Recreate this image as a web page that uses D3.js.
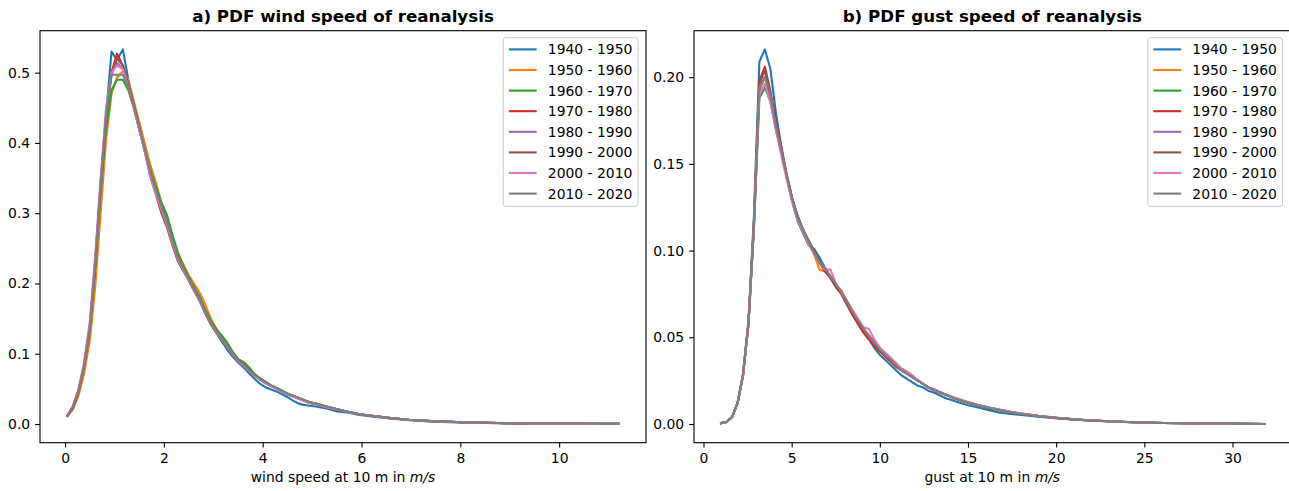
<!DOCTYPE html>
<html>
<head>
<meta charset="utf-8">
<script src="https://cdn.jsdelivr.net/npm/d3@7"></script>
<style>
  html, body { margin: 0; padding: 0; background: #fff; }
  svg { display: block; }
  text { font-family: "DejaVu Sans", sans-serif; fill: #000; }
</style>
</head>
<body>
<svg id="chart" width="1289" height="491"></svg>
<script>
// ---------------- DATA ----------------
const decadeLabels = ["1940 - 1950","1950 - 1960","1960 - 1970","1970 - 1980","1980 - 1990","1990 - 2000","2000 - 2010","2010 - 2020"];
const seriesColors = ["#1f77b4","#ff7f0e","#2ca02c","#d62728","#9467bd","#8c564b","#e377c2","#7f7f7f"];

// panel a) wind speed bins (m/s)
const windX = [
  0.05,0.16,0.27,0.38,0.50,0.61,0.72,0.83,0.94,1.05,
  1.17,1.28,1.39,1.50,1.61,1.72,1.83,1.95,2.06,2.17,
  2.28,2.39,2.50,2.61,2.73,2.84,2.95,3.06,3.17,3.28,
  3.39,3.51,3.62,3.73,3.84,3.95,4.06,4.17,4.29,4.40,
  4.51,4.62,4.73,4.84,4.95,5.07,5.29,5.51,5.74,5.96,
  6.29,6.63,6.96,7.30,7.64,8.08,8.53,8.98,9.42,9.87,
  10.5,11.2];
const wind1940 = [
  0.012,0.025,0.047,0.082,0.140,0.232,0.345,0.440,0.530,0.518,
  0.533,0.490,0.455,0.420,0.390,0.355,0.330,0.305,0.285,0.258,
  0.235,0.220,0.205,0.190,0.174,0.157,0.142,0.130,0.118,0.106,
  0.096,0.087,0.080,0.072,0.064,0.057,0.052,0.049,0.046,0.042,
  0.038,0.033,0.029,0.027,0.026,0.025,0.022,0.018,0.016,0.013,
  0.010,0.0075,0.0055,0.004,0.003,0.002,0.0014,0.0009,0.0006,0.0004,
  0.0002,0.0001];
const wind1950 = [
  0.011,0.021,0.040,0.070,0.118,0.195,0.300,0.405,0.470,0.493,
  0.502,0.490,0.460,0.430,0.400,0.370,0.345,0.315,0.290,0.265,
  0.242,0.228,0.212,0.200,0.186,0.170,0.150,0.136,0.124,0.112,
  0.100,0.090,0.084,0.077,0.070,0.064,0.058,0.054,0.050,0.046,
  0.043,0.040,0.037,0.034,0.031,0.029,0.025,0.021,0.017,0.014,
  0.011,0.008,0.006,0.0045,0.0035,0.0025,0.0017,0.0011,0.0008,0.0005,
  0.0003,0.0002];
const wind1960 = [
  0.012,0.024,0.046,0.080,0.135,0.222,0.330,0.420,0.475,0.490,
  0.490,0.475,0.450,0.420,0.392,0.362,0.340,0.315,0.298,0.270,
  0.245,0.225,0.210,0.195,0.180,0.162,0.147,0.135,0.126,0.116,
  0.103,0.092,0.088,0.080,0.071,0.065,0.060,0.055,0.051,0.047,
  0.043,0.040,0.037,0.034,0.031,0.029,0.025,0.021,0.017,0.014,
  0.011,0.008,0.006,0.0045,0.0034,0.0024,0.0016,0.0011,0.0007,0.0005,
  0.0003,0.0002];
const wind1970 = [
  0.012,0.024,0.046,0.080,0.136,0.226,0.338,0.440,0.500,0.527,
  0.510,0.480,0.452,0.420,0.390,0.358,0.333,0.308,0.288,0.260,
  0.236,0.220,0.206,0.192,0.176,0.158,0.143,0.131,0.120,0.110,
  0.100,0.090,0.085,0.076,0.069,0.063,0.058,0.054,0.050,0.046,
  0.042,0.039,0.036,0.033,0.030,0.028,0.024,0.020,0.017,0.014,
  0.011,0.008,0.006,0.0045,0.0035,0.0025,0.0017,0.0011,0.0008,0.0005,
  0.0003,0.0002];
const wind1980 = [
  0.012,0.024,0.046,0.080,0.136,0.228,0.338,0.438,0.497,0.514,
  0.505,0.482,0.452,0.420,0.390,0.358,0.332,0.307,0.286,0.260,
  0.236,0.220,0.206,0.190,0.176,0.158,0.143,0.131,0.121,0.110,
  0.100,0.089,0.083,0.076,0.069,0.063,0.059,0.054,0.050,0.046,
  0.042,0.039,0.036,0.033,0.031,0.028,0.024,0.020,0.017,0.014,
  0.011,0.008,0.006,0.0045,0.0035,0.0025,0.0017,0.0011,0.0008,0.0005,
  0.0003,0.0002];
const wind1990 = [
  0.012,0.024,0.046,0.081,0.137,0.228,0.340,0.440,0.500,0.520,
  0.510,0.485,0.455,0.425,0.390,0.355,0.328,0.300,0.280,0.255,
  0.232,0.218,0.205,0.190,0.176,0.158,0.142,0.130,0.120,0.110,
  0.100,0.090,0.084,0.076,0.070,0.064,0.060,0.055,0.051,0.047,
  0.043,0.040,0.037,0.034,0.031,0.029,0.025,0.021,0.017,0.014,
  0.011,0.008,0.006,0.0046,0.0036,0.0026,0.0018,0.0012,0.0008,0.0005,
  0.0003,0.0002];
const wind2000 = [
  0.013,0.026,0.050,0.086,0.145,0.240,0.350,0.450,0.500,0.510,
  0.505,0.480,0.450,0.420,0.388,0.352,0.328,0.305,0.284,0.258,
  0.235,0.220,0.205,0.190,0.175,0.158,0.143,0.131,0.121,0.110,
  0.099,0.089,0.083,0.075,0.068,0.063,0.058,0.054,0.050,0.046,
  0.042,0.039,0.036,0.033,0.030,0.028,0.024,0.021,0.017,0.014,
  0.011,0.008,0.006,0.0045,0.0035,0.0025,0.0017,0.0011,0.0008,0.0005,
  0.0003,0.0002];
const wind2010 = [
  0.012,0.025,0.047,0.082,0.138,0.230,0.340,0.440,0.497,0.497,
  0.497,0.480,0.452,0.422,0.392,0.360,0.334,0.310,0.288,0.262,
  0.238,0.222,0.207,0.192,0.177,0.159,0.144,0.132,0.121,0.111,
  0.100,0.090,0.084,0.076,0.070,0.064,0.059,0.055,0.051,0.047,
  0.043,0.040,0.037,0.034,0.031,0.029,0.025,0.021,0.017,0.014,
  0.011,0.008,0.006,0.0045,0.0035,0.0025,0.0017,0.0011,0.0008,0.0005,
  0.0003,0.0002];

// panel b) gust speed bins (m/s)
const gustX = [
  1.00,1.31,1.62,1.93,2.24,2.55,2.86,3.17,3.48,3.79,
  4.10,4.41,4.72,5.03,5.34,5.65,5.96,6.27,6.58,6.89,
  7.20,7.51,7.82,8.13,8.44,8.75,9.06,9.37,9.68,9.99,
  10.30,10.61,10.92,11.23,11.54,11.85,12.16,12.47,12.78,13.09,
  13.71,14.33,14.95,15.57,16.19,16.81,17.43,18.05,18.98,19.91,
  20.84,21.77,22.70,23.63,24.87,26.11,27.35,28.90,30.45,31.80];
const gust1940 = [
  0.0005,0.0012,0.004,0.012,0.029,0.060,0.120,0.209,0.216,0.205,
  0.180,0.160,0.142,0.128,0.117,0.110,0.103,0.101,0.096,0.090,
  0.085,0.079,0.075,0.069,0.064,0.058,0.053,0.049,0.044,0.040,
  0.037,0.034,0.031,0.028,0.026,0.024,0.022,0.021,0.019,0.018,
  0.015,0.013,0.011,0.0095,0.008,0.0065,0.0058,0.0052,0.0042,0.0033,
  0.0026,0.0021,0.0016,0.0012,0.0009,0.0006,0.0004,0.0002,0.0001,0.0];
const gust1950 = [
  0.0005,0.0012,0.004,0.012,0.028,0.057,0.113,0.192,0.200,0.188,
  0.171,0.157,0.142,0.129,0.118,0.111,0.104,0.098,0.089,0.088,
  0.085,0.080,0.077,0.071,0.065,0.060,0.055,0.051,0.047,0.043,
  0.040,0.037,0.034,0.031,0.029,0.027,0.025,0.023,0.021,0.0195,
  0.017,0.0145,0.0125,0.011,0.0095,0.008,0.0068,0.0058,0.0046,0.0036,
  0.0028,0.0022,0.0017,0.0013,0.0009,0.0006,0.0004,0.0002,0.0001,0.0];
const gust1960 = [
  0.0005,0.0012,0.004,0.012,0.028,0.058,0.113,0.188,0.194,0.186,
  0.170,0.157,0.143,0.130,0.120,0.112,0.105,0.099,0.093,0.089,
  0.085,0.080,0.076,0.070,0.065,0.060,0.055,0.051,0.047,0.044,
  0.041,0.038,0.035,0.031,0.029,0.027,0.025,0.023,0.021,0.0195,
  0.017,0.0145,0.0125,0.0108,0.0093,0.008,0.0068,0.0058,0.0046,0.0036,
  0.0028,0.0022,0.0017,0.0013,0.0009,0.0006,0.0004,0.0002,0.0001,0.0];
const gust1970 = [
  0.0005,0.0012,0.004,0.012,0.028,0.058,0.116,0.198,0.206,0.192,
  0.175,0.160,0.144,0.130,0.119,0.112,0.105,0.099,0.093,0.088,
  0.084,0.079,0.075,0.069,0.063,0.058,0.053,0.049,0.045,0.042,
  0.039,0.036,0.033,0.031,0.029,0.027,0.025,0.023,0.021,0.0195,
  0.017,0.0145,0.0125,0.0108,0.0093,0.008,0.0068,0.0058,0.0046,0.0036,
  0.0028,0.0022,0.0017,0.0013,0.0009,0.0006,0.0004,0.0002,0.0001,0.0];
const gust1980 = [
  0.0005,0.0012,0.004,0.012,0.028,0.058,0.115,0.194,0.200,0.190,
  0.172,0.158,0.143,0.130,0.119,0.112,0.105,0.099,0.093,0.089,
  0.085,0.080,0.076,0.070,0.065,0.060,0.055,0.051,0.048,0.044,
  0.041,0.038,0.034,0.032,0.030,0.028,0.025,0.023,0.021,0.020,
  0.017,0.0148,0.0128,0.011,0.0095,0.0082,0.007,0.006,0.0047,0.0037,
  0.0029,0.0022,0.0017,0.0013,0.0009,0.0006,0.0004,0.0002,0.0001,0.0];
const gust1990 = [
  0.0005,0.0012,0.004,0.012,0.028,0.058,0.115,0.196,0.204,0.190,
  0.173,0.158,0.143,0.130,0.120,0.112,0.106,0.100,0.094,0.089,
  0.085,0.080,0.076,0.070,0.065,0.060,0.055,0.051,0.047,0.043,
  0.040,0.037,0.034,0.032,0.030,0.027,0.025,0.023,0.021,0.0195,
  0.017,0.0145,0.0125,0.0108,0.0093,0.008,0.0068,0.0058,0.0046,0.0036,
  0.0028,0.0022,0.0017,0.0013,0.0009,0.0006,0.0004,0.0002,0.0001,0.0];
const gust2000 = [
  0.0005,0.0012,0.004,0.012,0.028,0.058,0.114,0.190,0.196,0.186,
  0.170,0.155,0.141,0.128,0.118,0.111,0.104,0.098,0.093,0.089,
  0.089,0.081,0.076,0.071,0.066,0.061,0.056,0.055,0.049,0.044,
  0.041,0.038,0.035,0.032,0.030,0.028,0.025,0.023,0.021,0.0195,
  0.017,0.0148,0.0128,0.011,0.0095,0.0082,0.007,0.006,0.0047,0.0037,
  0.0029,0.0022,0.0017,0.0013,0.0009,0.0006,0.0004,0.0002,0.0001,0.0];
const gust2010 = [
  0.0005,0.0012,0.004,0.012,0.028,0.058,0.115,0.194,0.200,0.190,
  0.172,0.158,0.143,0.130,0.119,0.112,0.105,0.099,0.093,0.090,
  0.085,0.081,0.076,0.071,0.065,0.060,0.055,0.051,0.047,0.043,
  0.040,0.037,0.034,0.031,0.029,0.027,0.025,0.023,0.021,0.0195,
  0.017,0.0145,0.0125,0.0108,0.0093,0.008,0.0068,0.0058,0.0046,0.0036,
  0.0028,0.0022,0.0017,0.0013,0.0009,0.0006,0.0004,0.0002,0.0001,0.0];

const windTicksX = [0, 2, 4, 6, 8, 10];
const windTicksY = [0.0, 0.1, 0.2, 0.3, 0.4, 0.5];
const gustTicksX = [0, 5, 10, 15, 20, 25, 30];
const gustTicksY = [0.00, 0.05, 0.10, 0.15, 0.20];

// ---------------- DRAW ----------------
const svg = d3.select("#chart");
const FS = 13.9, TITLE_FS = 16.7, LW = 2.1, SPINE = 1.1, TICKLEN = 4.9, PAD = 4.9;

function panel(opt) {
  const { left, right, top, bottom, xDomain, yDomain, xs, series, xTicks, yTicks, yFmt, xFmt, title, xlabel } = opt;
  series.forEach((s, i) => { if (s.length !== xs.length) throw new Error(title + " series " + i + " length " + s.length + " vs " + xs.length); });
  const x = d3.scaleLinear().domain(xDomain).range([left, right]);
  const y = d3.scaleLinear().domain(yDomain).range([bottom, top]);
  const g = svg.append("g");

  const line = d3.line().x(d => x(d[0])).y(d => y(d[1]));
  series.forEach((s, i) => {
    g.append("path")
      .datum(xs.map((xv, k) => [xv, s[k]]))
      .attr("d", line)
      .attr("fill", "none")
      .attr("stroke", seriesColors[i])
      .attr("stroke-width", LW)
      .attr("stroke-linejoin", "round")
      .attr("stroke-linecap", "square");
  });

  // axes
  const xAxis = d3.axisBottom(x).tickValues(xTicks).tickFormat(xFmt).tickSize(TICKLEN).tickPadding(PAD);
  const yAxis = d3.axisLeft(y).tickValues(yTicks).tickFormat(yFmt).tickSize(TICKLEN).tickPadding(PAD);
  const gx = g.append("g").attr("transform", `translate(0,${bottom})`).call(xAxis);
  const gy = g.append("g").attr("transform", `translate(${left},0)`).call(yAxis);
  [gx, gy].forEach(a => {
    a.select(".domain").remove();
    a.selectAll(".tick line").attr("stroke", "#000").attr("stroke-width", SPINE);
    a.selectAll(".tick text").attr("font-size", FS).attr("font-family", "DejaVu Sans").attr("fill", "#000");
  });
  gx.selectAll(".tick text").attr("dy", "0.76em");

  // frame
  g.append("rect")
    .attr("x", left).attr("y", top)
    .attr("width", right - left).attr("height", bottom - top)
    .attr("fill", "none").attr("stroke", "#000").attr("stroke-width", SPINE);

  // title
  g.append("text")
    .attr("x", (left + right) / 2).attr("y", top - 8.6)
    .attr("text-anchor", "middle").attr("font-size", TITLE_FS).attr("font-weight", "bold")
    .text(title);

  // x label
  const xl = g.append("text")
    .attr("x", (left + right) / 2).attr("y", 482)
    .attr("text-anchor", "middle").attr("font-size", FS);
  xl.append("tspan").text(xlabel + " ");
  xl.append("tspan").attr("font-style", "italic").text("m/s");

  // legend
  const lgRight = right - 8;
  const lgW = 134.7, lgTop = top + 7, rowH = 20.6, lgH = 168.7;
  const lgLeft = lgRight - lgW;
  const lg = g.append("g");
  lg.append("rect")
    .attr("x", lgLeft).attr("y", lgTop).attr("width", lgW).attr("height", lgH)
    .attr("rx", 2.5).attr("fill", "#fff").attr("fill-opacity", 0.8)
    .attr("stroke", "#cccccc").attr("stroke-width", 1);
  decadeLabels.forEach((lab, i) => {
    const cy = lgTop + 11.7 + i * rowH;
    lg.append("line")
      .attr("x1", lgLeft + 5.6).attr("x2", lgLeft + 5.6 + 27.8)
      .attr("y1", cy).attr("y2", cy)
      .attr("stroke", seriesColors[i]).attr("stroke-width", LW);
    lg.append("text")
      .attr("x", lgLeft + 5.6 + 27.8 + 11.1).attr("y", cy)
      .attr("dy", "0.36em").attr("font-size", FS)
      .text(lab);
  });
}

panel({
  left: 40, right: 646, top: 30.7, bottom: 442.7,
  xDomain: [-0.5075, 11.7575], yDomain: [-0.0266, 0.5597],
  xs: windX,
  series: [wind1940, wind1950, wind1960, wind1970, wind1980, wind1990, wind2000, wind2010],
  xTicks: windTicksX, yTicks: windTicksY,
  xFmt: d3.format("d"), yFmt: d3.format(".1f"),
  title: "a) PDF wind speed of reanalysis",
  xlabel: "wind speed at 10 m in"
});

panel({
  left: 694, right: 1290.5, top: 30.7, bottom: 442.7,
  xDomain: [-0.5386, 33.29], yDomain: [-0.01078, 0.2268],
  xs: gustX,
  series: [gust1940, gust1950, gust1960, gust1970, gust1980, gust1990, gust2000, gust2010],
  xTicks: gustTicksX, yTicks: gustTicksY,
  xFmt: d3.format("d"), yFmt: d3.format(".2f"),
  title: "b) PDF gust speed of reanalysis",
  xlabel: "gust at 10 m in"
});
</script>
</body>
</html>
